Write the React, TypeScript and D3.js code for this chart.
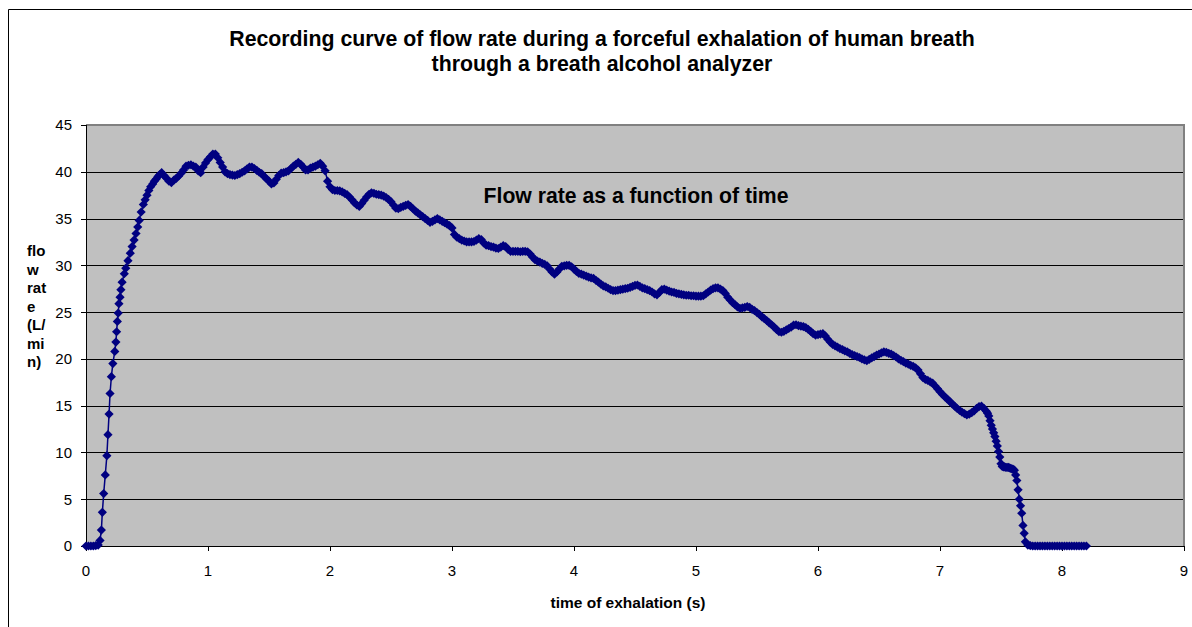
import React from "react";
import * as d3 from "d3";

const titleLines = [
  "Recording curve of flow rate during a forceful exhalation of human breath",
  "through a breath alcohol analyzer",
];
const seriesLabel = "Flow rate as a function of time";
const yTitleLines = ["flo", "w", "rat", "e", "(L/", "mi", "n)"];
const xTitle = "time of exhalation (s)";
const xTicks = [0, 1, 2, 3, 4, 5, 6, 7, 8, 9];
const yTicks = [0, 5, 10, 15, 20, 25, 30, 35, 40, 45];

// start of recording (s, L/min)
const startTimes = [0, 0.02, 0.04, 0.06, 0.08, 0.1];
const startValues = [0, 0, 0, 0, 0.05, 0.1];

// steep rise
const riseTimes = [
  0.115, 0.126, 0.134, 0.145, 0.158, 0.171, 0.18, 0.189, 0.197, 0.208,
  0.22, 0.236, 0.245, 0.251, 0.257, 0.264, 0.27, 0.279, 0.286, 0.296,
  0.314, 0.326, 0.344, 0.363, 0.378, 0.394, 0.41, 0.424, 0.436, 0.452,
  0.47, 0.485, 0.5, 0.515, 0.53, 0.547, 0.56, 0.574, 0.59, 0.605, 0.62,
];
const riseValues = [
  0.6, 1.7, 3.6, 5.6, 7.6, 9.65, 11.9, 14.1, 16.3, 18.1,
  19.5, 20.8, 21.8, 22.9, 24.0, 24.9, 25.9, 26.6, 27.4, 28.2,
  29.1, 29.7, 30.5, 31.3, 32.0, 32.7, 33.4, 34.1, 34.8, 35.7,
  36.5, 37.0, 37.5, 38.0, 38.4, 38.7, 39.0, 39.2, 39.5, 39.7, 39.9,
];

// sampled every 0.02 s from 0.64 s
const sampleStart = 0.64;
const sampleStep = 0.02;
const sampledValues = [
  39.6, 39.3, 39.0, 38.85, 39.1, 39.3, 39.55, 39.85, 40.2, 40.6,
  40.7, 40.75, 40.6, 40.5, 40.1, 39.9, 40.5, 40.95, 41.3, 41.6,
  41.9, 41.9, 41.5, 41.0, 40.5, 40.0, 39.8, 39.7, 39.65, 39.6,
  39.7, 39.8, 39.95, 40.1, 40.3, 40.5, 40.5, 40.35, 40.15, 39.95,
  39.8, 39.5, 39.25, 39.0, 38.7, 38.8, 39.2, 39.6, 39.85, 39.9,
  40.0, 40.1, 40.35, 40.6, 40.8, 41.0, 40.8, 40.5, 40.2, 40.2,
  40.4, 40.5, 40.6, 40.75, 40.9, 40.6, 40.1, 39.0, 38.4, 38.1,
  38.0, 38.0, 37.95, 37.85, 37.7, 37.55, 37.3, 37.0, 36.7, 36.45,
  36.3, 36.6, 36.95, 37.3, 37.6, 37.75, 37.7, 37.6, 37.55, 37.5,
  37.4, 37.25, 37.05, 36.8, 36.45, 36.1, 36.05, 36.2, 36.3, 36.4,
  36.5, 36.3, 36.05, 35.8, 35.6, 35.4, 35.2, 35.0, 34.8, 34.6,
  34.7, 34.85, 35.0, 34.85, 34.7, 34.55, 34.4, 34.25, 34.0, 33.3,
  33.0, 32.85, 32.7, 32.6, 32.5, 32.5, 32.5, 32.55, 32.7, 32.85,
  32.75, 32.4, 32.15, 32.1, 32.0, 31.95, 31.85, 31.8, 31.95, 32.1,
  32.0, 31.7, 31.5, 31.5, 31.5, 31.5, 31.45, 31.5, 31.5, 31.45,
  31.2, 30.9, 30.6, 30.45, 30.35, 30.2, 30.1, 29.95, 29.6, 29.3,
  29.05, 29.3, 29.6, 29.9, 29.95, 30.0, 30.0, 29.85, 29.6, 29.35,
  29.15, 29.05, 28.95, 28.85, 28.75, 28.65, 28.6, 28.4, 28.2, 28.0,
  27.8, 27.7, 27.55, 27.4, 27.3, 27.3, 27.35, 27.4, 27.45, 27.5,
  27.55, 27.65, 27.75, 27.85, 27.9, 27.75, 27.6, 27.5, 27.4, 27.3,
  27.15, 26.95, 26.85, 27.1, 27.4, 27.45, 27.35, 27.25, 27.15, 27.1,
  27.0, 26.95, 26.9, 26.85, 26.8, 26.8, 26.75, 26.75, 26.7, 26.7,
  26.7, 26.75, 26.95, 27.15, 27.35, 27.5, 27.6, 27.6, 27.45, 27.3,
  27.0, 26.6, 26.3, 26.0, 25.8, 25.55, 25.4, 25.45, 25.5, 25.6,
  25.5, 25.3, 25.15, 24.95, 24.75, 24.5, 24.3, 24.1, 23.85, 23.65,
  23.4, 23.15, 22.9, 22.85, 22.95, 23.1, 23.25, 23.4, 23.6, 23.65,
  23.55, 23.5, 23.45, 23.35, 23.15, 22.95, 22.7, 22.55, 22.6, 22.65,
  22.7, 22.45, 22.1, 21.8, 21.55, 21.4, 21.25, 21.1, 21.0, 20.85,
  20.75, 20.6, 20.45, 20.35, 20.25, 20.15, 20.0, 19.9, 19.8, 19.95,
  20.1, 20.25, 20.4, 20.5, 20.65, 20.75, 20.7, 20.6, 20.5, 20.35,
  20.2, 20.0, 19.85, 19.7, 19.55, 19.45, 19.3, 19.2, 19.05, 18.8,
  18.4, 18.0, 17.8, 17.7, 17.55, 17.4, 17.1, 16.8, 16.5, 16.2,
  15.95, 15.7, 15.45, 15.2, 14.95, 14.7, 14.5, 14.3, 14.15, 14.0,
  14.1, 14.25, 14.45, 14.7, 14.9, 14.95, 14.7, 14.4,
];

// final drop and end of recording
const tailTimes = [
  7.39, 7.4, 7.41, 7.42, 7.43, 7.44, 7.45, 7.46, 7.47, 7.48,
  7.49, 7.5, 7.51, 7.52, 7.53, 7.54, 7.55, 7.56, 7.57, 7.58,
  7.59, 7.6, 7.61, 7.62, 7.63, 7.64, 7.65, 7.66, 7.67, 7.68,
  7.69, 7.7, 7.72, 7.74, 7.76, 7.78, 7.8, 7.82, 7.84, 7.86,
  7.88, 7.9, 7.92, 7.94, 7.96, 7.98, 8.0, 8.02, 8.04, 8.06,
  8.08, 8.1, 8.12, 8.14, 8.16, 8.18, 8.2,
];
const tailValues = [
  14.2, 13.9, 13.4, 12.9, 12.5, 12.1, 11.7, 11.2, 10.7, 10.1,
  9.5, 8.8, 8.5, 8.45, 8.45, 8.4, 8.4, 8.4, 8.35, 8.3,
  8.25, 8.2, 8.1, 7.6, 7.0, 6.0, 5.0, 4.3, 3.5, 2.2,
  1.35, 0.45, 0.1, 0.05, 0, 0, 0, 0, 0, 0,
  0, 0, 0, 0, 0, 0, 0, 0, 0, 0,
  0, 0, 0, 0, 0, 0, 0,
];

type Pt = { t: number; v: number };

function buildSeries(): Pt[] {
  const pts: Pt[] = [];
  startTimes.forEach((t, i) => pts.push({ t, v: startValues[i] }));
  riseTimes.forEach((t, i) => pts.push({ t, v: riseValues[i] }));
  sampledValues.forEach((v, i) => pts.push({ t: sampleStart + i * sampleStep, v }));
  tailTimes.forEach((t, i) => pts.push({ t, v: tailValues[i] }));
  return pts;
}

const FONT = "'Liberation Sans', Arial, Helvetica, sans-serif";

export default function App() {
  const W = 1192;
  const H = 627;
  const left = 86;
  const right = 1184;
  const top = 125;
  const bottom = 546;

  const x = d3.scaleLinear().domain([0, 9]).range([left, right]);
  const y = d3.scaleLinear().domain([0, 45]).range([bottom, top]);

  const data = buildSeries();
  const line = d3
    .line<Pt>()
    .x((d) => x(d.t))
    .y((d) => y(d.v));

  const r = 4.6;
  const diamond = `M0,${-r}L${r},0L0,${r}L${-r},0Z`;

  return (
    <svg
      width={W}
      height={H}
      viewBox={`0 0 ${W} ${H}`}
      style={{ position: "absolute", left: 0, top: 0, background: "#fff" }}
      fontFamily={FONT}
    >
      <rect x={0} y={0} width={W} height={H} fill="#fff" />
      <path d={`M8.5,${H + 2}V9.5H${W + 2}`} fill="none" stroke="#000" strokeWidth={1} />

      {titleLines.map((s, i) => (
        <text key={i} x={602} y={46 + i * 25} textAnchor="middle" fontSize={21.3} fontWeight="bold" fill="#000">
          {s}
        </text>
      ))}

      {/* plot area */}
      <rect x={left} y={top} width={right - left} height={bottom - top} fill="#C0C0C0" />
      {yTicks
        .filter((v) => v > 0 && v < 45)
        .map((v) => (
          <line key={v} x1={left} x2={right} y1={Math.round(y(v)) + 0.5} y2={Math.round(y(v)) + 0.5} stroke="#000" strokeWidth={1} />
        ))}
      <path d={`M${left},${top}H${right}V${bottom}`} fill="none" stroke="#808080" strokeWidth={2} />

      {/* axes */}
      <line x1={left + 0.5} x2={left + 0.5} y1={top} y2={bottom + 5} stroke="#000" strokeWidth={1} />
      <line x1={left} x2={right} y1={bottom + 0.5} y2={bottom + 0.5} stroke="#000" strokeWidth={1} />
      {yTicks.map((v) => (
        <g key={v}>
          <line x1={left - 5} x2={left} y1={Math.round(y(v)) + 0.5} y2={Math.round(y(v)) + 0.5} stroke="#000" />
          <text x={72} y={y(v)} dy="0.36em" textAnchor="end" fontSize={15} fill="#000">
            {v}
          </text>
        </g>
      ))}
      {xTicks.map((v) => (
        <g key={v}>
          <line x1={Math.round(x(v)) + 0.5} x2={Math.round(x(v)) + 0.5} y1={bottom} y2={bottom + 5} stroke="#000" />
          <text x={x(v)} y={576} textAnchor="middle" fontSize={15} fill="#000">
            {v}
          </text>
        </g>
      ))}

      {/* series */}
      <path d={line(data) || ""} fill="none" stroke="#000080" strokeWidth={1.5} />
      {data.map((d, i) => (
        <path key={i} d={diamond} transform={`translate(${x(d.t)},${y(d.v)})`} fill="#000080" />
      ))}

      <text x={636} y={203} textAnchor="middle" fontSize={21.2} fontWeight="bold" fill="#000">
        {seriesLabel}
      </text>

      {yTitleLines.map((s, i) => (
        <text key={i} x={27} y={256 + i * 18.5} fontSize={15} fontWeight="bold" fill="#000">
          {s}
        </text>
      ))}
      <text x={628} y={608} textAnchor="middle" fontSize={15.5} fontWeight="bold" fill="#000">
        {xTitle}
      </text>
    </svg>
  );
}
